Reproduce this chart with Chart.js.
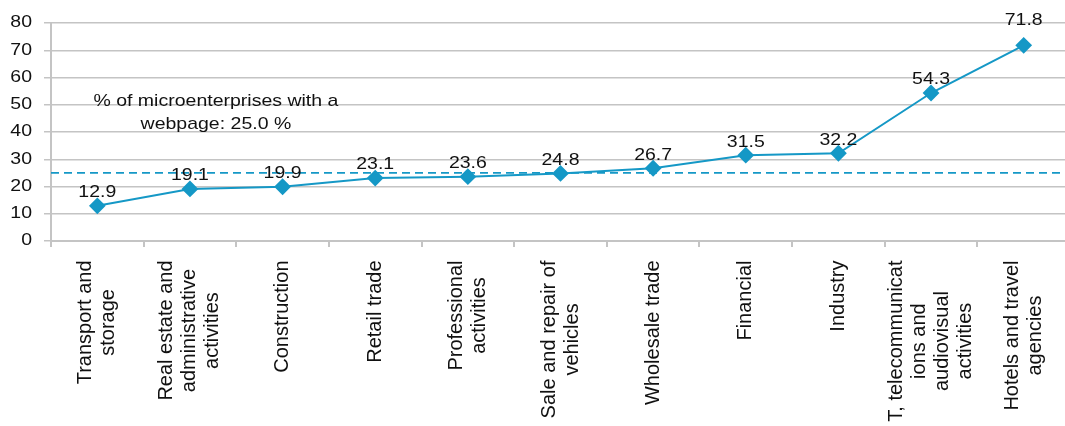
<!DOCTYPE html>
<html>
<head>
<meta charset="utf-8">
<script src="https://cdn.jsdelivr.net/npm/chart.js@4/dist/chart.umd.min.js"></script>
<style>
  html, body { margin: 0; padding: 0; background: #fff; overflow: hidden; }
  #wrap { width: 1079px; height: 426px; position: relative; }
</style>
</head>
<body>
<div id="wrap"><canvas id="chart"></canvas></div>
<script>
// Sectors, one array of text lines per category label
const categories = [
  ['Transport and', 'storage'],
  ['Real estate and', 'administrative', 'activities'],
  ['Construction'],
  ['Retail trade'],
  ['Professional', 'activities'],
  ['Sale and repair of', 'vehicles'],
  ['Wholesale trade'],
  ['Financial'],
  ['Industry'],
  ['T, telecommunicat', 'ions and', 'audiovisual', 'activities'],
  ['Hotels and travel', 'agencies']
];
// Share of microenterprises with a webpage, by sector (%)
const values = [12.9, 19.1, 19.9, 23.1, 23.6, 24.8, 26.7, 31.5, 32.2, 54.3, 71.8];
// Overall share across all microenterprises (%)
const overallShare = 25.0;
const overallText = ['% of microenterprises with a', 'webpage: ' + overallShare.toFixed(1) + ' %'];
// Value axis ticks
const yTicks = [0, 10, 20, 30, 40, 50, 60, 70, 80];

const FONT = '"Liberation Sans", Arial, sans-serif';
const BLUE = '#1598c6';
const GRID = '#c4c4c4';
const INK = '#111';
const SQUASH = 0.82;      // horizontal text is drawn slightly flattened

function flatText(ctx, text, x, y) {
  ctx.save();
  ctx.translate(x, y);
  ctx.scale(1, SQUASH);
  ctx.fillText(text, 0, 0);
  ctx.restore();
}

const overlay = {
  id: 'overlay',
  afterDatasetsDraw(chart) {
    const ctx = chart.ctx;
    const x = chart.scales.x, y = chart.scales.y;
    const area = chart.chartArea;

    // dashed reference line for the overall share
    const yRef = y.getPixelForValue(overallShare);
    ctx.save();
    ctx.strokeStyle = BLUE;
    ctx.lineWidth = 1.6;
    ctx.setLineDash([8, 5]);
    ctx.beginPath();
    ctx.moveTo(area.left, yRef);
    ctx.lineTo(chart.width, yRef);
    ctx.stroke();
    ctx.restore();

    ctx.save();
    ctx.font = '19.5px ' + FONT;
    ctx.fillStyle = INK;

    // value axis labels
    ctx.textAlign = 'right';
    ctx.textBaseline = 'middle';
    yTicks.forEach(v => flatText(ctx, String(v), area.left - 19, y.getPixelForValue(v)));

    // value labels above the markers (the last one sits a little higher)
    ctx.textAlign = 'center';
    const meta = chart.getDatasetMeta(0);
    meta.data.forEach((pt, i) => {
      const lift = i === values.length - 1 ? 25 : 13;
      flatText(ctx, values[i].toFixed(1), pt.x, pt.y - lift);
    });

    // note about the overall share
    const nx = x.getPixelForValue(1.28);
    const ny = y.getPixelForValue(51);
    overallText.forEach((t, j) => flatText(ctx, t, nx, ny + j * 23));
    ctx.restore();

    // rotated category labels, lines centred on the longest one
    ctx.save();
    ctx.font = '20px ' + FONT;
    ctx.fillStyle = INK;
    ctx.textAlign = 'center';
    ctx.textBaseline = 'middle';
    const lh = 23;
    const top = x.top + 19.5;
    categories.forEach((lines, i) => {
      const cx = x.getPixelForValue(i);
      const maxW = Math.max(...lines.map(l => ctx.measureText(l).width));
      lines.forEach((l, j) => {
        const off = (j - (lines.length - 1) / 2) * lh;
        ctx.save();
        ctx.translate(cx + off, top + maxW / 2);
        ctx.rotate(-Math.PI / 2);
        ctx.fillText(l, 0, 0);
        ctx.restore();
      });
    });
    ctx.restore();
  }
};

new Chart(document.getElementById('chart'), {
  type: 'line',
  data: {
    labels: categories.map(c => c.join(' ')),
    datasets: [{
      data: values,
      borderColor: BLUE,
      backgroundColor: BLUE,
      borderWidth: 2,
      pointStyle: 'rectRot',
      pointRadius: 7,
      pointHoverRadius: 7,
      pointBackgroundColor: BLUE,
      pointBorderColor: BLUE,
      tension: 0
    }]
  },
  options: {
    responsive: true,
    maintainAspectRatio: false,
    animation: false,
    events: [],
    layout: { padding: { top: 23, left: 0, right: 0, bottom: 0 } },
    plugins: { legend: { display: false }, tooltip: { enabled: false } },
    scales: {
      x: {
        offset: true,
        grid: { offset: true, drawOnChartArea: false, drawTicks: true, tickLength: 6, color: GRID, lineWidth: 2 },
        border: { display: true, color: GRID, width: 2 },
        ticks: { display: false },
        afterFit(s) { s.height = 185; }
      },
      y: {
        min: yTicks[0],
        max: yTicks[yTicks.length - 1],
        ticks: { stepSize: yTicks[1] - yTicks[0], display: false },
        grid: { color: GRID, lineWidth: 1.5, tickLength: 7 },
        border: { display: true, color: GRID, width: 2 },
        afterFit(s) { s.width = 51; }
      }
    }
  },
  plugins: [overlay]
});
</script>
</body>
</html>
